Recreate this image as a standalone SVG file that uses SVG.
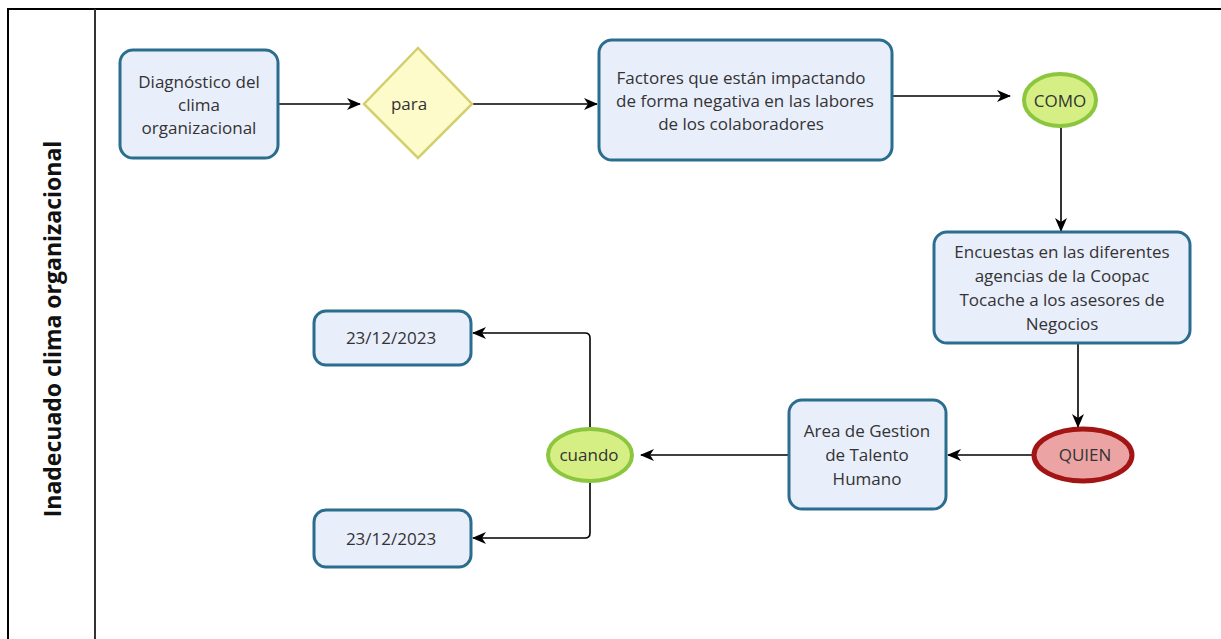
<svg xmlns="http://www.w3.org/2000/svg" width="1221" height="639" viewBox="0 0 1221 639">
<style>
.box{fill:#e9eefb;stroke:#2b6d8e;stroke-width:3}
.t{font-family:"Open Sans","Noto Sans",sans-serif;font-size:17px;fill:#333;text-anchor:middle}
.c{fill:none;stroke:#000;stroke-width:1.6}
</style>
<defs>
<marker id="ah" viewBox="0 0 14 14" refX="13" refY="7" markerWidth="14" markerHeight="14" markerUnits="userSpaceOnUse" orient="auto">
<path d="M0,1 L14,7 L0,13 L4,7 z" fill="#000"/>
</marker>
</defs>
<rect width="1221" height="639" fill="#fff"/>
<g id="frame">
<path d="M8,639 V9 H1221" fill="none" stroke="#000" stroke-width="2"/>
<line x1="95" y1="9" x2="95" y2="639" stroke="#333" stroke-width="2"/>
<text x="0" y="0" transform="translate(61,329) rotate(-90)" font-family="'Open Sans','Noto Sans',sans-serif" font-size="23" font-weight="bold" fill="#111" text-anchor="middle">Inadecuado clima organizacional</text>
</g>
<g id="connectors">
<path class="c" d="M278,104 H360" marker-end="url(#ah)"/>
<path class="c" d="M472,104 H597" marker-end="url(#ah)"/>
<path class="c" d="M892,96 H1010" marker-end="url(#ah)"/>
<path class="c" d="M1061,127 V231" marker-end="url(#ah)"/>
<path class="c" d="M1078,343 V427" marker-end="url(#ah)"/>
<path class="c" d="M1033,455 H948" marker-end="url(#ah)"/>
<path class="c" d="M788,455 H641" marker-end="url(#ah)"/>
<path class="c" d="M590,428 V338 Q590,333 585,333 H473" marker-end="url(#ah)"/>
<path class="c" d="M590,482 V533 Q590,538 585,538 H473" marker-end="url(#ah)"/>
</g>
<g id="diagnostico">
<rect class="box" x="120" y="50" width="158" height="108" rx="13"/>
<text class="t" x="199" y="88">Diagnóstico del</text>
<text class="t" x="199" y="111">clima</text>
<text class="t" x="199" y="134">organizacional</text>
</g>
<g id="para">
<polygon points="418,48 472,104 418,158 364,104" fill="#fdfbc9" stroke="#d3cf6e" stroke-width="2.5"/>
<text class="t" x="409" y="110">para</text>
</g>
<g id="factores">
<rect class="box" x="599" y="40" width="293" height="120" rx="13"/>
<text class="t" x="741" y="84">Factores que están impactando</text>
<text class="t" x="745" y="107">de forma negativa en las labores</text>
<text class="t" x="741" y="130">de los colaboradores</text>
</g>
<g id="como">
<ellipse cx="1060" cy="100" rx="36" ry="26" fill="#d6ef85" stroke="#8cc63f" stroke-width="4"/>
<text class="t" x="1060" y="107">COMO</text>
</g>
<g id="encuestas">
<rect class="box" x="934" y="232" width="256" height="111" rx="13"/>
<text class="t" x="1062" y="258">Encuestas en las diferentes</text>
<text class="t" x="1062" y="282">agencias de la Coopac</text>
<text class="t" x="1062" y="306">Tocache a los asesores de</text>
<text class="t" x="1062" y="330">Negocios</text>
</g>
<g id="quien">
<ellipse cx="1083" cy="455" rx="49" ry="26" fill="#eba3a3" stroke="#a31515" stroke-width="5"/>
<text class="t" x="1085" y="461">QUIEN</text>
</g>
<g id="area">
<rect class="box" x="789" y="400" width="157" height="109" rx="13"/>
<text class="t" x="867" y="437">Area de Gestion</text>
<text class="t" x="867" y="461">de Talento</text>
<text class="t" x="867" y="485">Humano</text>
</g>
<g id="cuando">
<ellipse cx="590" cy="455" rx="42" ry="26" fill="#d6ef85" stroke="#8cc63f" stroke-width="4"/>
<text class="t" x="589" y="461">cuando</text>
</g>
<g id="fecha1">
<rect class="box" x="314" y="311" width="157" height="54" rx="12"/>
<text class="t" x="391" y="344">23/12/2023</text>
</g>
<g id="fecha2">
<rect class="box" x="314" y="510" width="157" height="57" rx="12"/>
<text class="t" x="391" y="545">23/12/2023</text>
</g>
</svg>
